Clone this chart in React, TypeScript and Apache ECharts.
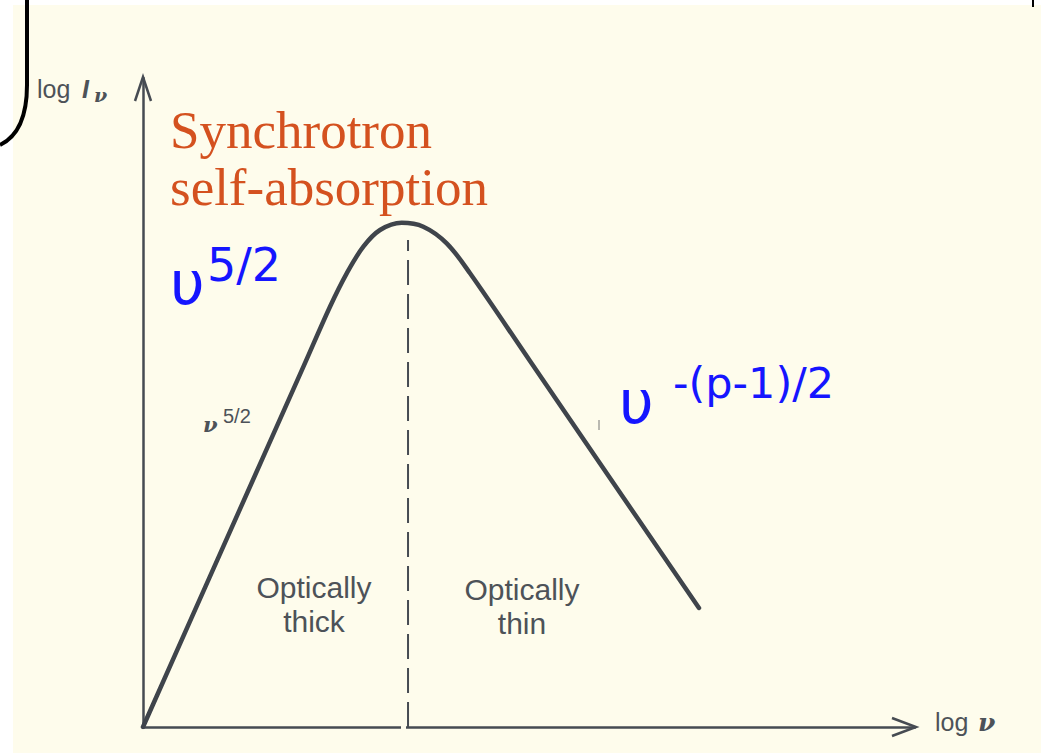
import React, { useEffect, useRef } from "react";
import * as echarts from "echarts";

// curve samples (log ν, log Iν) in arbitrary diagram units
const curveX = [0, 10.28, 20.78, 24.22, 26.39, 28.54, 30.7, 33.51, 36.31, 39.34, 42.36, 50.13, 59.2, 72.02];
const curveY = [0, 27.49, 55.52, 64.76, 69.91, 74.01, 76.58, 77.7, 77.09, 74.53, 69.91, 56.39, 40.6, 18.34];
// dashed divider between optically thick and thin regimes
const dividerX = [34.33, 34.33];
const dividerY = [0, 75.04];

const INK = "#464b52";
const TXT = "#4d5258";
const ORANGE = "#d4511f";
const BLUE = "#1515ff";
const CREAM = "#fefcec";

export default function App() {
  const ref = useRef<HTMLDivElement>(null);
  useEffect(() => {
    if (!ref.current) return;
    const chart = echarts.init(ref.current, null, { renderer: "svg" });
    const txt = (x: number, y: number, text: string, o: any = {}) => ({
      type: "text",
      x,
      y,
      z: 10,
      style: {
        text,
        fill: o.fill || TXT,
        font: o.font,
        align: o.align || "left",
        verticalAlign: o.va || "middle",
      },
    });
    chart.setOption({
      animation: false,
      backgroundColor: "#ffffff",
      grid: { left: 143, right: 126, top: 78, bottom: 26 },
      xAxis: {
        type: "value",
        min: 0,
        max: 100,
        axisLine: { show: true, lineStyle: { color: INK, width: 2.5 } },
        axisTick: { show: false },
        axisLabel: { show: false },
        splitLine: { show: false },
      },
      yAxis: {
        type: "value",
        min: 0,
        max: 100,
        axisLine: { show: true, lineStyle: { color: INK, width: 2.5 } },
        axisTick: { show: false },
        axisLabel: { show: false },
        splitLine: { show: false },
      },
      series: [
        {
          type: "line",
          data: curveX.map((x, i) => [x, curveY[i]]),
          smooth: 0.35,
          showSymbol: false,
          symbol: "none",
          lineStyle: { color: "#3f444b", width: 4.5, cap: "round", join: "round" },
          z: 5,
        },
        {
          type: "line",
          data: dividerX.map((x, i) => [x, dividerY[i]]),
          showSymbol: false,
          symbol: "none",
          lineStyle: { color: INK, width: 2, type: [25, 9] },
          z: 4,
        },
      ],
      graphic: [
        { type: "rect", z: -10, shape: { x: 13, y: 5, width: 1100, height: 800 }, style: { fill: CREAM } },
        // bracket remnants
        { type: "line", z: 1, shape: { x1: 27, y1: 0, x2: 27, y2: 86 }, style: { stroke: "#000", lineWidth: 4 } },
        { type: "bezierCurve", z: 1, shape: { x1: 27, y1: 85, cpx1: 27, cpy1: 132, x2: 0, y2: 145 }, style: { stroke: "#000", lineWidth: 4, fill: "none" } },
        { type: "line", z: 1, shape: { x1: 1033, y1: 0, x2: 1033, y2: 7 }, style: { stroke: "#000", lineWidth: 2 } },
        // axis arrowheads
        { type: "polyline", z: 6, shape: { points: [[135, 101], [143, 77], [151, 101]] }, style: { stroke: INK, lineWidth: 2.5, fill: "none" } },
        { type: "polyline", z: 6, shape: { points: [[892, 718], [916, 727], [892, 736]] }, style: { stroke: INK, lineWidth: 2.5, fill: "none" } },
        // gap in x axis
        { type: "rect", z: 7, shape: { x: 401, y: 724, width: 5, height: 6 }, style: { fill: CREAM } },
        // small tick artefact
        { type: "line", z: 6, shape: { x1: 599, y1: 420, x2: 599, y2: 430 }, style: { stroke: "#777", lineWidth: 1 } },
        // axis titles
        txt(37, 89, "log", { font: "25px 'Liberation Sans'" }),
        txt(82, 89, "I", { font: "italic bold 25px 'Liberation Sans'" }),
        txt(94, 95, "ν", { font: "italic bold 19px 'DejaVu Serif'" }),
        txt(935, 722, "log", { font: "25px 'Liberation Sans'" }),
        txt(978, 722, "ν", { font: "italic bold 25px 'DejaVu Serif'" }),
        // orange title
        txt(170, 130, "Synchrotron", { font: "53px 'Liberation Serif'", fill: ORANGE }),
        txt(170, 187, "self-absorption", { font: "53px 'Liberation Serif'", fill: ORANGE }),
        // blue annotations
        txt(170, 283, "υ", { font: "60px 'DejaVu Sans'", fill: BLUE }),
        txt(207, 265, "5/2", { font: "46px 'DejaVu Sans'", fill: BLUE }),
        txt(619, 402, "υ", { font: "60px 'DejaVu Sans'", fill: BLUE }),
        txt(673, 383, "-(p-1)/2", { font: "43px 'DejaVu Sans'", fill: BLUE }),
        // original gray labels
        txt(203, 424, "ν", { font: "italic bold 21px 'DejaVu Serif'" }),
        txt(223, 416, "5/2", { font: "20px 'Liberation Sans'" }),
        txt(314, 587, "Optically", { font: "30px 'Liberation Sans'", align: "center" }),
        txt(314, 621, "thick", { font: "30px 'Liberation Sans'", align: "center" }),
        txt(522, 589, "Optically", { font: "30px 'Liberation Sans'", align: "center" }),
        txt(522, 623, "thin", { font: "30px 'Liberation Sans'", align: "center" }),
      ],
    });
    return () => chart.dispose();
  }, []);
  return <div ref={ref} style={{ position: "fixed", left: 0, top: 0, width: 1041, height: 753 }} />;
}
